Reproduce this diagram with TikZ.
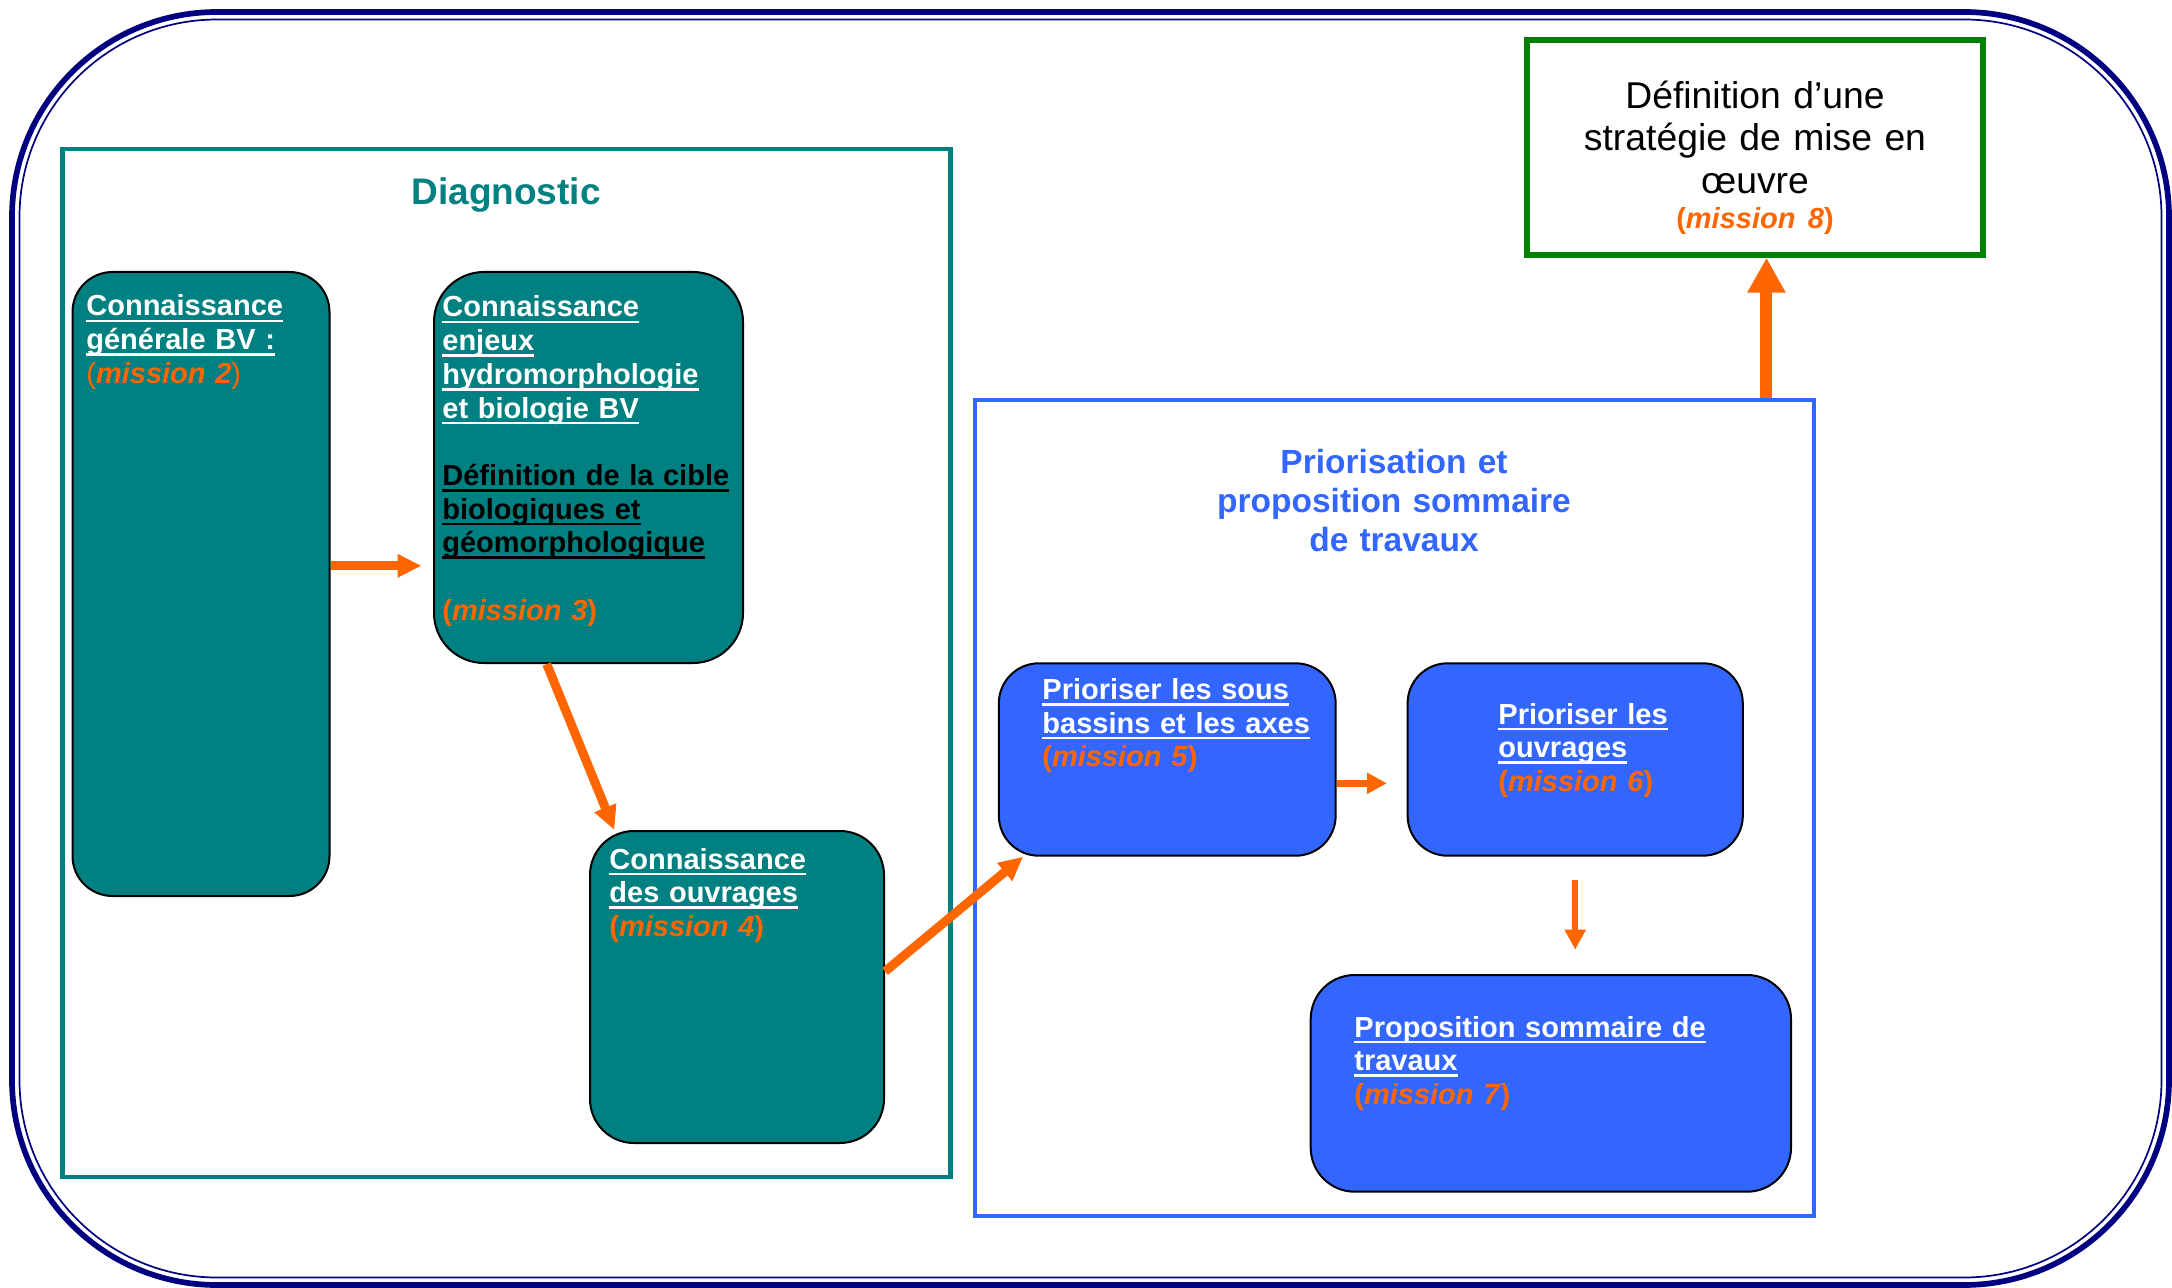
\documentclass[tikz,border=0pt]{standalone}
\usepackage{fontspec}
\setmainfont{Liberation Sans}
\usetikzlibrary{arrows.meta}
\definecolor{navy}{HTML}{000080}
\definecolor{sarcelle}{HTML}{008080}
\definecolor{bleu}{HTML}{3366FF}
\definecolor{orng}{HTML}{FF6600}
\definecolor{vert}{HTML}{008000}
\newsavebox{\ulbox}
\newcommand{\souligne}[1]{\leavevmode\sbox{\ulbox}{#1}\rlap{\usebox{\ulbox}}\rule[-3.1pt]{\wd\ulbox}{1.3pt}}
\newcommand{\mis}[1]{\textcolor{orng}{(\textit{mission #1})}}
\begin{document}
\begin{tikzpicture}[x=0.5pt,y=-0.5pt,
    boite/.style={draw=black,line width=1pt,rounded corners=20pt,inner sep=0pt},
    tboite/.style={boite,fill=sarcelle},
    bboite/.style={boite,fill=bleu},
    cadre/.style={line width=2.25pt,inner sep=0pt},
    txt/.style={text=white,font=\fontsize{14.5}{16.85}\selectfont\bfseries,text width=200pt,align=left,anchor=base west,inner sep=0pt},
    fl/.style={orng,line width=4.5pt,-{Triangle[length=12pt,width=11pt]}},
    petitefl/.style={orng,line width=3.25pt,-{Triangle[length=10pt,width=10pt]}},
    grossefl/.style={orng,line width=6pt,-{Triangle[length=17.5pt,width=18pt]}}]
\useasboundingbox (0,0) rectangle (2172,1288);
\draw[navy,line width=2.85pt,rounded corners=102.5pt] (12,12) rectangle (2169,1285);
\draw[navy,line width=0.85pt,rounded corners=98.75pt] (19.5,19.5) rectangle (2161.5,1277.5);

\node[cadre,draw=sarcelle,minimum width=444pt,minimum height=514pt] (diag) at (506.5,663) {};
\node[sarcelle,font=\fontsize{18.5}{22}\selectfont\bfseries,anchor=base,inner sep=0pt] (titrediag) at (506,205) {Diagnostic};
\node[cadre,draw=bleu,minimum width=419.5pt,minimum height=408pt] (prio) at (1394.5,808) {};
\node[bleu,font=\fontsize{16.75}{19.5}\selectfont\bfseries,text width=200pt,align=center,anchor=base,inner sep=0pt] (titreprio) at (1394,473.3) {Priorisation et\\proposition sommaire\\de travaux};

\node[tboite,minimum width=128.5pt,minimum height=312pt] (n2) at (201,584) {};
\node[tboite,rounded corners=25pt,minimum width=154.5pt,minimum height=195.5pt] (n3) at (588.5,467.5) {};
\node[tboite,rounded corners=22pt,minimum width=147pt,minimum height=156pt] (n4) at (737,987) {};
\node[bboite,minimum width=168.4pt,minimum height=96.2pt] (n5) at (1167.25,759.5) {};
\node[bboite,minimum width=167.6pt,minimum height=96.2pt] (n6) at (1575.2,759.5) {};
\node[bboite,rounded corners=22pt,minimum width=240.15pt,minimum height=108.35pt] (n7) at (1550.85,1083.35) {};
\node[draw=vert,line width=3pt,minimum width=227.85pt,minimum height=107.5pt,inner sep=0pt] (n8) at (1754.85,147.2) {};

\node[txt] (n2t) at (86,316) {\souligne{Connaissance}\\\souligne{générale BV :}\\\textcolor{orng}{\textmd{(}\textit{mission 2}\textmd{)}}};
\node[txt] (n3t) at (442,317) {\souligne{Connaissance}\\\souligne{enjeux}\\\souligne{hydromorphologie}\\\souligne{et biologie BV}\\\mbox{}\\{\color{black}\souligne{Définition de la cible}\\\souligne{biologiques et}\\\souligne{géomorphologique}}\\\mbox{}\\\mis{3}};
\node[txt] (n4t) at (609,869) {\souligne{Connaissance}\\\souligne{des ouvrages}\\\mis{4}};
\node[txt] (n5t) at (1042,699.3) {\souligne{Prioriser les sous}\\\souligne{bassins et les axes}\\\mis{5}};
\node[txt] (n6t) at (1498,724) {\souligne{Prioriser les}\\\souligne{ouvrages}\\\mis{6}};
\node[txt] (n7t) at (1354,1037) {\souligne{Proposition sommaire de}\\\souligne{travaux}\\\mis{7}};
\node[font=\fontsize{18.65}{21.25}\selectfont,text width=220pt,align=center,anchor=base,inner sep=0pt] (n8t) at (1755,108.3) {Définition d’une\\stratégie de mise en\\œuvre\\[-3.75pt]{\fontsize{14.5}{17}\selectfont\bfseries\mis{8}}};

\draw[fl,shorten >=5.75pt] (n2.8) -- (n2.8 -| n3.west);
\foreach \a/\b in {n3.258/n4.128, n4.6/n5.214}
{
    \draw[fl] (\a) -- (\b);
}
\draw[petitefl,shorten >=9.8pt] (n5.-8) -- (n5.-8 -| n6.west);
\draw[petitefl,shorten <=11.8pt,shorten >=12.15pt] (n6.south) -- (n6.south |- n7.north);
\draw[grossefl] (n8.-84 |- prio.north) -- (n8.-84);
\end{tikzpicture}
\end{document}
